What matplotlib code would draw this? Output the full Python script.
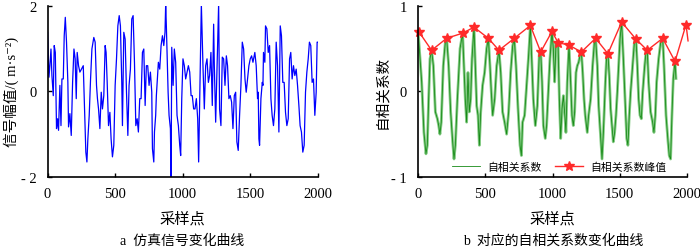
import matplotlib
matplotlib.use("Agg")
import matplotlib.pyplot as plt
from matplotlib.ticker import FixedLocator, FixedFormatter

plt.rcParams['font.family'] = ['Liberation Serif', 'Noto Sans CJK SC', 'DejaVu Sans']

# 仿真信号 (采样点, 幅值)
sig_x = [0, 10, 17, 25, 32, 42, 49, 57, 66, 74, 81, 91, 99, 106, 116, 123, 131, 140, 150, 155,
         165, 175, 185, 195, 204, 212, 219, 229, 239, 251, 264, 273, 283, 291, 298, 308, 318, 328,
         342, 352, 362, 369, 377, 387, 397, 406, 416, 426, 433, 441, 451, 461, 470, 480, 490, 500,
         510, 520, 530, 539, 549, 554, 564, 574, 584, 594, 603, 613, 623, 633, 643, 653, 663, 672,
         682, 692, 702, 712, 722, 731, 741, 751, 761, 771, 776, 786, 791, 800, 805, 820, 830, 840,
         850, 860, 869, 874, 879, 892, 899, 909, 914, 919, 929, 938, 948, 958, 968, 978, 985, 993,
         1002, 1012, 1022, 1032, 1042, 1052, 1062, 1071, 1081, 1091, 1101, 1111, 1118, 1138, 1150,
         1160, 1170, 1180, 1190, 1199, 1209, 1219, 1229, 1234, 1244, 1266, 1273, 1283, 1293, 1303,
         1313, 1323, 1332, 1342, 1352, 1362, 1372, 1382, 1392, 1401, 1411, 1421, 1431, 1441, 1451,
         1461, 1470, 1480, 1490, 1500, 1510, 1520, 1534, 1544, 1554, 1559, 1564, 1569, 1579, 1589,
         1594, 1598, 1608, 1613, 1623, 1633, 1643, 1653, 1662, 1672, 1682, 1692, 1702, 1712, 1722,
         1731, 1741, 1751, 1761, 1771, 1781, 1791, 1800, 1810, 1820, 1830, 1840, 1850, 1860, 1869,
         1879, 1889, 1899, 1909, 1919, 1929, 1938, 1948, 1958, 1968, 1978, 1988, 1995, 2000]
sig_y = [1.38, 0.33, 0.60, 0.99, 0.37, -0.10, 1.07, 0.91, -0.87, -0.64, -0.91, 0.14, -0.80, 0.29,
         0.29, 1.30, 1.73, 1.15, 0.21, -0.83, -0.52, -1.03, 0.21, 0.99, 0.76, -0.17, 0.91, 0.60,
         0.45, 0.52, 0.60, -0.33, -1.42, -1.65, -1.11, -0.56, 0.29, 0.99, 1.26, 1.15, 0.14, -0.17,
         -0.41, -0.87, -0.02, -0.41, -0.10, 1.07, 0.91, 0.21, -0.80, -0.49, -1.11, -1.53, -1.26,
         0.14, 0.76, 1.53, 1.77, 1.53, 0.21, -0.80, 1.38, 1.22, -0.02, -1.03, 0.14, 0.52, 1.69,
         1.77, 0.68, -0.80, -0.64, -0.95, -0.17, -0.17, 0.91, 0.99, -0.33, 0.60, 0.60, 0.14, 0.45,
         -0.02, -1.34, -1.65, -0.95, -0.56, -0.10, 0.68, 0.52, 1.07, 1.30, 1.07, 1.38, 2.04, 1.53,
         -0.02, -0.56, -0.87, -2.05, 1.03, 0.14, 0.99, 0.68, -0.56, -0.80, -1.26, -1.50, -0.17,
         0.76, 0.60, 0.29, 0.45, 0.60, 0.45, -0.10, -0.10, -0.41, -0.41, -0.17, -0.64, -1.65, 2.04,
         0.60, -0.41, 0.60, 0.76, 0.21, 0.37, 0.91, -0.33, 1.57, 0.60, -0.72, 2.04, -0.41, -0.80,
         0.80, 0.76, 0.14, 0.83, 0.60, -0.17, -0.10, -0.25, -0.87, -0.10, -0.02, -1.18, -1.38,
         -0.56, 0.14, 1.15, 0.99, 0.29, -0.02, 0.29, 0.60, 0.76, 0.83, 0.68, 0.91, 0.60, -0.17,
         -0.02, -1.11, -1.26, -0.17, 0.21, 0.14, 0.91, 0.68, 1.53, 1.46, 0.91, 1.07, -0.17, -0.56,
         -0.80, -0.41, 1.15, 0.60, -0.95, 1.53, 1.30, 0.21, 0.21, -0.49, -0.80, -0.64, 0.76, 0.91,
         0.29, 0.60, 0.37, 0.52, 0.14, -0.33, -0.80, -0.95, -1.42, -1.26, -0.02, 0.45, 0.76, 1.15,
         1.07, 0.21, 0.29, -0.56, -0.02, 1.15, 1.15]

# 自相关系数
ac_x = [0, 25, 42, 57, 67, 77, 87, 99, 112, 127, 142, 152, 161, 171, 186, 201, 211, 226, 241, 256,
        266, 276, 291, 311, 330, 340, 350, 360, 370, 380, 390, 400, 415, 425, 435, 445, 455, 465,
        479, 494, 509, 522, 534, 544, 554, 569, 584, 601, 614, 628, 643, 658, 673, 688, 703, 715,
        728, 743, 758, 768, 777, 792, 807, 822, 835, 847, 857, 872, 887, 902, 912, 922, 932, 946,
        956, 966, 981, 996, 1006, 1016, 1026, 1041, 1051, 1061, 1071, 1081, 1090, 1100, 1110, 1123,
        1135, 1145, 1155, 1165, 1175, 1185, 1195, 1205, 1215, 1225, 1235, 1244, 1259, 1269, 1284,
        1299, 1312, 1321, 1334, 1344, 1359, 1369, 1379, 1394, 1403, 1413, 1423, 1433, 1443, 1453,
        1463, 1473, 1483, 1493, 1503, 1515, 1528, 1543, 1553, 1562, 1572, 1582, 1597, 1610, 1622,
        1632, 1642, 1652, 1662, 1672, 1687, 1697, 1706, 1716, 1731, 1746, 1756, 1766, 1776, 1791,
        1806, 1821, 1831, 1846, 1861, 1870, 1880, 1890, 1900, 1913, 1920]
ac_y = [0.67, 0.11, -0.48, -0.73, -0.63, -0.09, 0.38, 0.48, 0.30, -0.24, -0.32, -0.40, -0.50,
        -0.36, 0.30, 0.57, 0.62, 0.30, -0.24, -0.59, -0.79, -0.63, -0.09, 0.50, 0.68, 0.30, -0.09,
        -0.36, 0.22, -0.24, -0.09, 0.38, 0.75, 0.30, -0.17, -0.28, -0.63, -0.24, 0.07, 0.22, 0.50,
        0.62, 0.30, -0.01, -0.28, -0.09, 0.30, 0.48, 0.22, -0.24, -0.36, -0.50, -0.24, 0.22, 0.53,
        0.62, 0.30, -0.20, -0.63, -0.75, -0.36, -0.28, 0.07, 0.42, 0.77, 0.30, -0.09, -0.40, -0.17,
        0.46, 0.46, 0.11, -0.40, -0.55, -0.40, -0.09, 0.38, 0.70, 0.50, 0.11, 0.57, 0.57, -0.09,
        -0.55, -0.20, -0.05, -0.24, -0.48, 0.11, 0.54, 0.11, -0.28, -0.40, -0.24, 0.22, 0.30, 0.34,
        0.42, 0.46, 0.22, -0.09, -0.28, -0.48, -0.28, -0.09, 0.30, 0.57, 0.62, 0.30, -0.17, -0.55,
        -0.79, -0.48, 0.11, 0.40, 0.44, 0.18, -0.20, -0.40, -0.59, -0.48, -0.28, -0.01, 0.30, 0.61,
        0.81, 0.38, -0.17, -0.55, -0.63, -0.28, -0.01, 0.30, 0.57, 0.61, 0.30, -0.09, -0.28, -0.32,
        -0.01, 0.30, 0.46, 0.48, 0.11, -0.24, -0.36, -0.48, -0.28, 0.11, 0.38, 0.57, 0.62, 0.30,
        -0.28, -0.59, -0.75, -0.79, -0.28, 0.15, 0.35, 0.15]

# 自相关系数峰值
peak_x = [7, 99, 211, 330, 415, 522, 601, 715, 835, 912, 996, 1041, 1123, 1215, 1321, 1413, 1515,
          1622, 1706, 1821, 1913, 1995, 2010]
peak_y = [0.69, 0.48, 0.62, 0.68, 0.75, 0.62, 0.48, 0.62, 0.77, 0.46, 0.70, 0.57, 0.54, 0.46,
          0.62, 0.44, 0.81, 0.61, 0.48, 0.62, 0.35, 0.78, 0.59]

x_ticks = [0, 500, 1000, 1500, 2000]

fig = plt.figure(figsize=(7.0, 2.51), dpi=100)
ax1 = fig.add_axes([0.068, 0.291, 0.386, 0.682])
ax2 = fig.add_axes([0.5976, 0.291, 0.3834, 0.682])


def style_axes(ax, yticks, ylabels):
    for s in ['top', 'right']:
        ax.spines[s].set_visible(False)
    for s in ['left', 'bottom']:
        ax.spines[s].set_linewidth(1.2)
    ax.set_xlim(0, 2000)
    ax.xaxis.set_major_locator(FixedLocator(x_ticks))
    ax.yaxis.set_major_locator(FixedLocator(yticks))
    ax.yaxis.set_major_formatter(FixedFormatter(ylabels))
    ax.tick_params(direction='in', length=3, width=1, labelsize=10.5)
    ax.tick_params(axis='x', pad=7)
    ax.tick_params(axis='y', pad=8)
    ax.set_xlabel('采样点', fontsize=11, labelpad=8)


ax1.plot(sig_x, sig_y, color='#0000ff', lw=0.9)
ax1.set_ylim(-2, 2)
style_axes(ax1, [-2, 0, 2], ['- 2', '0', '2'])
ax1.set_ylabel('信号幅值/( m·s⁻²)', fontsize=10.5)
ax1.yaxis.set_label_coords(-0.104, 0.5)

ax2.plot(ac_x, ac_y, color='#86cc86', lw=2.0)
ax2.plot(ac_x, ac_y, color='#178a17', lw=0.6, label='自相关系数')
ax2.plot(peak_x, peak_y, color='#ff2a2a', lw=1.0, marker='*', markersize=7,
         markevery=list(range(len(peak_x) - 1)), clip_on=False, label='自相关系数峰值')
ax2.set_ylim(-1, 1)
style_axes(ax2, [-1, 0, 1], ['- 1', '0', '1'])
ax2.set_ylabel('自相关系数', fontsize=10.5)
ax2.yaxis.set_label_coords(-0.11, 0.5)
ax2.legend(loc='center right', ncol=2, frameon=False, fontsize=7.8, handlelength=2.6,
           handletextpad=0.7, columnspacing=1.2, borderpad=0, borderaxespad=0.0,
           bbox_to_anchor=(0.925, 0.06))

fig.text(0.26, 0.025, 'a  仿真信号变化曲线', ha='center', fontsize=10)
fig.text(0.79, 0.025, 'b  对应的自相关系数变化曲线', ha='center', fontsize=10)

fig.savefig('out.png', dpi=100)
